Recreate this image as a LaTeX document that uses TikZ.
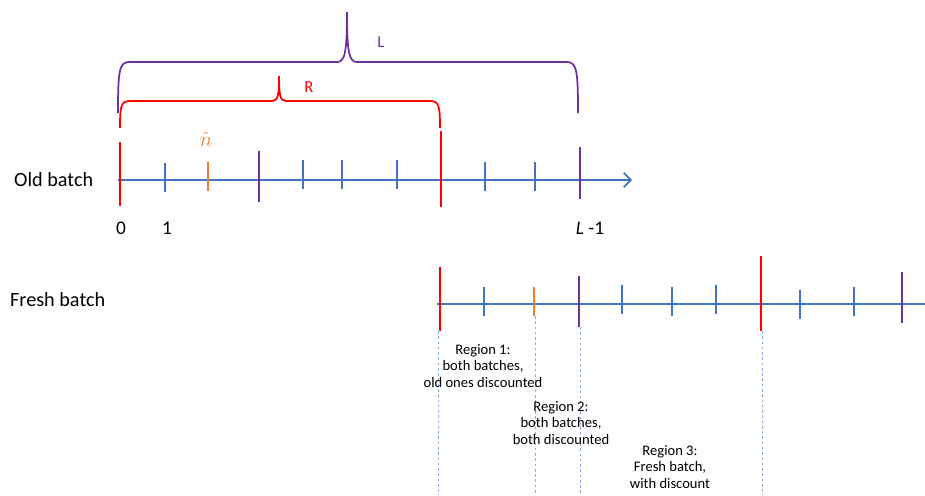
\documentclass[tikz,border=0pt]{standalone}
\usepackage{fontspec}
\setmainfont{Carlito}
\usetikzlibrary{arrows.meta}
\definecolor{axisblue}{HTML}{4472C4}
\definecolor{markred}{HTML}{FF0000}
\definecolor{markorange}{HTML}{ED7D31}
\definecolor{markpurple}{HTML}{7030A0}
\definecolor{guideblue}{HTML}{8EAADB}
\begin{document}
\begin{tikzpicture}[
		x=0.02cm, y=-0.02cm,
		axis/.style={draw=axisblue, line width=1pt},
		tickmark/.style={line width=1pt},
		brace/.style={line width=1pt},
		guide/.style={draw=guideblue, line width=0.4pt, dash pattern=on 1.5pt off 1.5pt},
		rowlabel/.style={anchor=west, font=\fontsize{11.5}{13}\selectfont},
		numlabel/.style={font=\fontsize{11}{13}\selectfont},
		bracelabel/.style={font=\fontsize{9.5}{11}\selectfont},
		regionlabel/.style={align=center, font=\fontsize{8.3}{9.6}\selectfont}
		]
		\useasboundingbox (0,0) rectangle (925,495);
		
		% Row labels
		\node[rowlabel] (oldlab) at (8,180) {Old batch};
		\node[rowlabel] (freshlab) at (4,300) {Fresh batch};
		
		% Old batch axis
		\coordinate (oldstart) at (118,180);
		\coordinate (oldend) at (632,180);
		\draw[axis, -{Straight Barb[length=4pt,width=8pt]}] (oldstart) -- (oldend);
		\foreach \x/\top/\bot/\col in {165/163/192/axisblue, 208/162/191/markorange,
			303/160/189/axisblue, 342/160/189/axisblue, 397/160/189/axisblue,
			485/162/191/axisblue, 535/162/191/axisblue,
			120/142/206/markred, 259/151/202/markpurple,
			441/131/207/markred, 580/147/199/markpurple}
			\draw[tickmark, draw=\col] (\x,\top) -- (\x,\bot);
		
		% Labels under old axis
		\node[numlabel] (n0) at (121,228) {0};
		\node[numlabel] (n1) at (167,228) {1};
		\node[numlabel] (nl) at (590,228) {\textit{L} -1};
		\node[font=\fontsize{13}{15}\selectfont, text=markorange] (nhat) at (206,139) {$\hat{n}$};
		
		% Braces
		\draw[brace, markpurple] (118,113) .. controls (118,72) and (119,62) .. (129,62) -- (337,62)
			.. controls (345,62) and (347,52) .. (347,12)
			.. controls (347,52) and (349,62) .. (357,62) -- (567,62)
			.. controls (577,62) and (578,72) .. (578,113);
		\node[bracelabel, text=markpurple] (llab) at (381,42) {L};
		\draw[brace, markred] (120,128) .. controls (120,106) and (121,101) .. (130,101) -- (272,101)
			.. controls (278,101) and (279,95) .. (279,76)
			.. controls (279,95) and (280,101) .. (286,101) -- (430,101)
			.. controls (439,101) and (440,106) .. (440,128);
		\node[bracelabel, text=markred] (rlab) at (309,87) {R};
		
		% Fresh batch axis
		\coordinate (freshstart) at (437,304);
		\coordinate (freshend) at (925,304);
		\draw[axis] (freshstart) -- (freshend);
		\foreach \x/\top/\bot/\col in {484/287/316/axisblue, 534/287/316/markorange,
			622/285/314/axisblue, 672/287/316/axisblue, 716/285/314/axisblue,
			800/290/319/axisblue, 854/287/316/axisblue,
			440/267/331/markred, 579/276/327/markpurple,
			761/256/331/markred, 902/272/323/markpurple}
			\draw[tickmark, draw=\col] (\x,\top) -- (\x,\bot);
		
		% Region borders
		\coordinate (bottom) at (0,495);
		\coordinate (g1) at (438,331);
		\coordinate (g2) at (535,316);
		\coordinate (g3) at (580,327);
		\coordinate (g4) at (762,331);
		\foreach \g in {g1,g2,g3,g4}
			\draw[guide] (\g) -- (\g |- bottom);
		
		% Region descriptions
		\node[regionlabel] (reg1) at (483,366) {Region 1:\\both batches,\\old ones discounted};
		\node[regionlabel] (reg2) at (561,423) {Region 2:\\both batches,\\both discounted};
		\node[regionlabel] (reg3) at (670,467) {Region 3:\\Fresh batch,\\with discount};
		
	\end{tikzpicture}
\end{document}
